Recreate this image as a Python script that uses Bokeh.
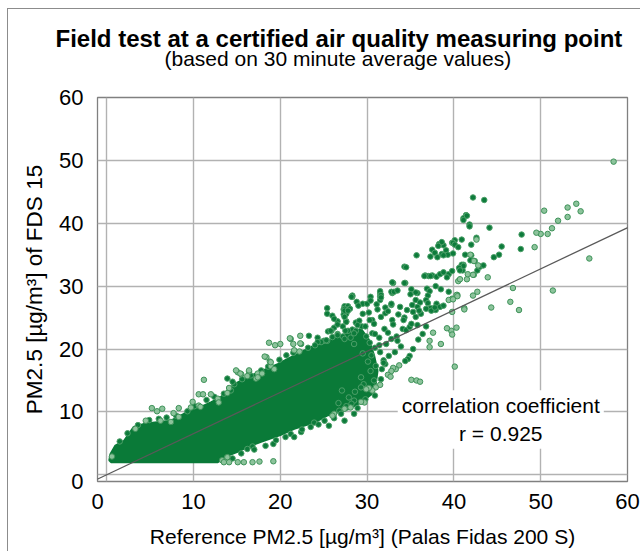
from bokeh.plotting import figure
from bokeh.models import Range1d, FixedTicker, Label, Slope, Title
from bokeh.embed import file_html
from bokeh.resources import INLINE

# ---------------- data ----------------
title_text = "Field test at a certified air quality measuring point"
subtitle_text = "(based on 30 minute average values)"
x_label = "Reference PM2.5 [µg/m³] (Palas Fidas 200 S)"
y_label = "PM2.5 [µg/m³] of FDS 15"

x_ticks = [0, 10, 20, 30, 40, 50, 60]
y_ticks = [0, 10, 20, 30, 40, 50, 60]

# outline of the dense (saturated) part of the point cloud
core_x = [0.5, 12.8, 13.9, 15.0, 16.2, 17.7, 20.0, 21.6, 23.9, 25.4, 27.8, 29.3, 30.5,
          31.0, 31.2, 30.8, 30.2, 29.3, 27.8, 26.2, 24.3, 22.4, 20.8, 19.7, 17.0, 14.7,
          13.1, 12.0, 10.4, 8.9, 7.4, 5.8, 4.3, 3.1, 2.0, 1.0, 0.44, 0.3]
core_y = [2.0, 2.0, 3.0, 3.6, 4.4, 5.2, 6.3, 7.3, 8.3, 9.4, 10.4, 11.5, 12.8,
          14.5, 16.5, 19.0, 21.5, 23.2, 22.6, 21.6, 20.8, 19.5, 18.4, 17.6, 16.0, 14.4,
          12.3, 11.5, 10.5, 9.7, 8.6, 8.35, 8.1, 7.6, 5.4, 4.65, 3.3, 2.3]

dark_pts = [
    (42.2, 44.1), (43.5, 43.7), (41.4, 41.3), (41.1, 40.8), (41.8, 39.8), (44.1, 39.3),
    (42.6, 37.7), (42.0, 36.6), (40.9, 37.4), (40.1, 37.3), (39.8, 36.9), (38.8, 36.5),
    (39.1, 35.7), (38.6, 35.1), (39.3, 35.0), (39.9, 35.2), (35.7, 34.9), (41.3, 35.0),
    (42.0, 34.9), (42.4, 34.0), (41.9, 34.1), (34.3, 33.1), (34.5, 33.0), (41.1, 33.4),
    (41.0, 32.5), (40.8, 33.0), (42.3, 31.8), (42.7, 32.5), (43.0, 33.1), (43.4, 33.3),
    (47.8, 38.2), (47.7, 35.9), (45.5, 36.3), (45.2, 35.0), (44.6, 34.6),
    (36.7, 31.7), (37.1, 31.6), (37.5, 31.7), (38.0, 31.5), (38.4, 31.9), (38.8, 32.2),
    (39.4, 31.9), (39.8, 32.4), (39.2, 31.4),
    (33.0, 30.5), (34.4, 30.5), (35.1, 29.5), (35.0, 28.7), (35.8, 28.9), (32.9, 28.9),
    (31.5, 28.9), (31.5, 28.4), (30.4, 28.3), (28.3, 28.3),
    (41.5, 41.2), (41.1, 40.5), (41.8, 39.5), (38.3, 36.7), (38.6, 37.0), (38.2, 36.4),
    (39.9, 36.9), (40.1, 36.6), (40.5, 36.2), (37.5, 35.8), (37.8, 35.3), (37.3, 34.7),
    (38.1, 34.6), (38.8, 34.9), (40.9, 33.4), (41.1, 33.2), (40.6, 32.9), (40.7, 32.5),
    (36.6, 31.6), (37.3, 31.6), (32.9, 30.6), (34.3, 30.5), (35.6, 29.0), (36.9, 29.6),
    (37.2, 29.2), (37.0, 28.5), (37.9, 30.0), (38.5, 29.5), (39.4, 29.1), (31.5, 29.2),
    (31.6, 28.6), (32.8, 29.1), (33.1, 29.1), (32.1, 26.6), (32.8, 27.0), (31.1, 27.1),
    (31.5, 27.8), (35.2, 27.0), (35.6, 27.8), (36.1, 27.4), (35.8, 26.7), (36.8, 27.8),
    (37.0, 27.3), (37.3, 26.5), (38.0, 27.2), (38.4, 26.7), (38.8, 26.9), (37.9, 26.2),
    (27.4, 26.8), (27.8, 26.8), (29.5, 27.2), (30.0, 27.2), (30.4, 27.7), (27.3, 26.3),
    (27.4, 25.8), (30.6, 24.6), (31.6, 25.1), (32.9, 24.6), (34.3, 25.0), (32.1, 25.7),
    (32.4, 26.0),
    (34.9, 18.9), (34.7, 18.4), (34.4, 18.1), (34.1, 23.2), (34.5, 23.0), (34.9, 23.5),
    (35.1, 24.0), (35.8, 23.8), (35.6, 25.1), (36.2, 25.6), (36.0, 26.1), (36.8, 26.4),
    (37.4, 26.1), (37.8, 26.6), (31.6, 28.2), (32.8, 27.2), (33.5, 29.3), (33.8, 26.7),
    (34.6, 26.2), (30.8, 24.0), (32.0, 23.2), (32.4, 22.6), (30.6, 22.5), (31.4, 21.8),
    (28.8, 27.5), (28.0, 26.4), (29.5, 25.6), (30.3, 24.6), (28.3, 23.1), (27.2, 22.0),
    (29.9, 22.0), (29.5, 19.3), (30.1, 18.0), (30.4, 16.5), (30.8, 15.0), (29.3, 15.5),
    (29.6, 14.4), (27.1, 13.4), (27.9, 12.3), (26.7, 11.4), (28.6, 13.2), (29.3, 13.9),
    (30.3, 21.0), (30.9, 20.2), (31.5, 19.5), (32.2, 20.8), (32.8, 21.6), (33.4, 22.0),
    (31.9, 18.2), (32.5, 18.9), (33.2, 19.5), (33.9, 20.4), (33.5, 21.3), (31.0, 17.3),
    (31.7, 16.8), (32.1, 17.6), (30.5, 19.0), (35.3, 20.0), (35.9, 21.5), (36.4, 22.4),
    (36.8, 23.6), (33.0, 23.9), (34.2, 24.6), (35.3, 25.9), (33.6, 25.5), (31.2, 26.3),
    (30.2, 25.8), (29.0, 26.9), (29.4, 23.6), (28.7, 24.2),
    (13.9, 15.3), (14.7, 14.4), (14.3, 13.4), (25.4, 26.5), (28.3, 28.5), (27.4, 26.4),
    (28.0, 26.4), (27.6, 25.6), (27.3, 25.5), (26.0, 25.3), (26.6, 24.4), (27.6, 24.4),
    (26.2, 23.4), (25.5, 22.8), (25.9, 22.9), (24.3, 21.8), (25.0, 21.3), (25.4, 21.3),
    (24.7, 21.1), (28.7, 22.9),
    (19.2, 4.9), (16.8, 4.5), (16.2, 4.1), (21.2, 6.5), (21.6, 6.0), (22.4, 6.8),
    (23.5, 7.6), (25.1, 8.6), (25.6, 7.8), (23.9, 8.3), (27.4, 8.6), (28.5, 9.7),
    (26.8, 10.2), (27.6, 10.9), (28.5, 11.8), (28.2, 11.3),
    (21.2, 21.6), (22.4, 20.8), (23.3, 22.1), (24.3, 21.1), (25.4, 25.6), (26.2, 24.8),
    (27.4, 26.1), (27.8, 26.1), (27.4, 25.1), (27.6, 24.3), (28.2, 28.3), (25.8, 22.9),
    (26.6, 23.9), (27.2, 23.6), (27.8, 22.9), (28.5, 22.5), (29.1, 24.5), (26.0, 21.9),
    (26.6, 22.4), (27.4, 21.6), (28.1, 21.8), (28.5, 20.8),
    # points poking out of the dense band (upper edge)
    (1.5, 5.3), (2.4, 6.6), (3.6, 7.9), (4.9, 8.7), (6.0, 8.9), (6.9, 9.1), (8.0, 9.4),
    (9.3, 10.1), (10.1, 10.9), (11.5, 11.9), (12.4, 12.4), (13.5, 12.9), (14.5, 14.8),
    (15.6, 15.2), (16.6, 15.8), (17.8, 16.6), (18.6, 17.2), (19.9, 18.3), (20.7, 19.0),
    (21.5, 19.4), (23.2, 20.2), (24.0, 20.6), (25.3, 21.4), (26.6, 22.2), (27.5, 22.9),
    (28.9, 23.8), (29.8, 23.6),
    # points poking out of the dense band (lower edge / right end)
    (14.5, 2.6), (15.5, 3.4), (17.0, 4.0), (18.3, 4.6), (19.5, 5.5), (20.6, 6.0),
    (22.5, 7.2), (24.4, 8.0), (26.2, 9.0), (27.0, 9.7), (28.9, 10.6), (29.8, 12.0),
    (30.9, 12.6), (31.6, 15.2), (31.9, 17.8), (31.4, 20.6), (30.9, 22.4),
]

light_pts = [
    (58.4, 49.8), (50.4, 42.0), (53.1, 42.5), (54.1, 43.1), (54.6, 41.9), (53.1, 41.0),
    (52.0, 40.4), (51.3, 39.2), (50.8, 38.3), (50.0, 38.3), (49.5, 38.5), (49.3, 36.2),
    (55.6, 34.4), (46.8, 29.7), (51.4, 29.3), (40.5, 30.8), (41.5, 31.1), (43.9, 31.4),
    (40.4, 28.6), (42.7, 29.1), (42.2, 28.5), (42.6, 37.4), (41.9, 35.0), (42.3, 34.0),
    (42.8, 33.3), (41.6, 31.9), (42.2, 31.8), (40.7, 31.1), (40.3, 28.6), (39.8, 28.0),
    (39.4, 27.8), (41.2, 26.5), (39.8, 25.9),
    (46.5, 27.5), (47.5, 26.2), (44.3, 26.6), (41.2, 26.3), (40.4, 28.4), (39.9, 27.9),
    (40.3, 23.4), (39.7, 22.9), (39.2, 23.3), (39.8, 22.3), (38.5, 20.8), (37.2, 21.3),
    (37.2, 20.3), (37.6, 22.6), (40.1, 17.2), (35.1, 15.1), (35.7, 15.0), (36.1, 14.8),
    (33.7, 17.4), (33.3, 16.8), (33.0, 17.0), (32.8, 16.5), (32.4, 15.9), (32.7, 15.6),
    (31.5, 14.3), (31.0, 13.9), (30.6, 13.4), (30.2, 13.8), (29.9, 13.6), (29.7, 11.5),
    (29.3, 11.6), (28.1, 10.7), (27.4, 10.5), (26.2, 9.7), (26.0, 9.4),
    (11.2, 15.1), (10.6, 12.8), (11.1, 12.8), (12.0, 12.8), (5.2, 10.6), (5.8, 10.1),
    (6.4, 10.5), (7.7, 9.8), (8.3, 10.6), (8.3, 9.2), (9.7, 10.7), (9.9, 11.6),
    (10.6, 11.0), (10.8, 10.8), (13.9, 13.0), (14.1, 13.8), (12.8, 12.1), (12.9, 11.5),
    (4.5, 8.6), (3.3, 7.3), (6.2, 8.6), (7.4, 8.4), (0.6, 2.9), (13.3, 2.3),
    (13.9, 2.8), (14.1, 2.0),
    (18.7, 21.0), (19.4, 20.6), (21.1, 21.7), (21.5, 20.8), (22.3, 20.9), (22.2, 19.6),
    (22.3, 22.1), (21.6, 19.8), (18.4, 18.7), (18.8, 18.0), (18.9, 17.3), (19.3, 16.8),
    (15.1, 16.3), (15.5, 16.0), (16.4, 16.4), (16.2, 15.7), (17.4, 16.1), (17.9, 16.1),
    (17.2, 15.3),
    (13.5, 2.0), (15.1, 2.0), (16.8, 2.0), (19.2, 2.15), (13.9, 2.8), (15.8, 2.0),
    (17.6, 2.1),
    (14.9, 16.6), (16.4, 16.6), (15.4, 16.1), (17.4, 15.5), (18.2, 18.8), (18.9, 17.9),
    (20.0, 20.8),
]

fit_slope = 0.655
fit_intercept = 0.0
r_value = 0.925

dark_x = [q[0] for q in dark_pts]
dark_y = [q[1] for q in dark_pts]
light_x = [q[0] for q in light_pts]
light_y = [q[1] for q in light_pts]

# ---------------- styling / layout ----------------
FONT = "Liberation Sans"
X_MIN, X_MAX = -1.06, 60
Y_MIN, Y_MAX = -1.07, 60
CORE = "#0a7a38"
DARK_FILL, DARK_EDGE = "#0d7b3b", "#4c9f68"
LIGHT_FILL, LIGHT_EDGE = "#8cc39b", "#3f935a"
GRID = "#b2b2b2"

W, H = 633, 543
p = figure(width=W, height=H, x_range=Range1d(X_MIN, X_MAX), y_range=Range1d(Y_MIN, Y_MAX),
           output_backend="svg", toolbar_location=None,
           min_border_left=89, min_border_top=88, min_border_right=14, min_border_bottom=71)
p.styles = {"margin-left": "7px", "margin-top": "8px",
            "border-left": "1px solid #8c8c8c", "border-top": "1px solid #8c8c8c"}
p.background_fill_color = "white"
p.border_fill_color = "white"
p.outline_line_color = "#808080"
p.outline_line_width = 1.3

p.xgrid.ticker = FixedTicker(ticks=x_ticks)
p.ygrid.ticker = FixedTicker(ticks=y_ticks)
for g in (p.xgrid, p.ygrid):
    g.grid_line_color = GRID
    g.grid_line_width = 1.4

p.xaxis.ticker = FixedTicker(ticks=[X_MIN] + x_ticks[1:])
p.yaxis.ticker = FixedTicker(ticks=[Y_MIN] + y_ticks[1:])
p.xaxis.major_label_overrides = {X_MIN: str(x_ticks[0])}
p.yaxis.major_label_overrides = {Y_MIN: str(y_ticks[0])}

for ax in (p.xaxis, p.yaxis):
    ax.axis_line_color = None
    ax.major_tick_line_color = None
    ax.minor_tick_line_color = None
    ax.major_tick_out = 0
    ax.major_tick_in = 0
    ax.major_label_text_font = FONT
    ax.major_label_text_font_size = "22px"
    ax.major_label_text_color = "black"
    ax.axis_label_text_font = FONT
    ax.axis_label_text_font_size = "21px"
    ax.axis_label_text_font_style = "normal"
    ax.axis_label_text_color = "black"
p.yaxis.axis_label_text_font_size = "22.5px"
p.xaxis.axis_label = x_label
p.yaxis.axis_label = y_label
p.xaxis.major_label_standoff = 12
p.yaxis.major_label_standoff = 14
p.xaxis.axis_label_standoff = 13
p.yaxis.axis_label_standoff = 9

p.patch(core_x, core_y, fill_color=CORE, line_color=CORE, line_width=2)
p.scatter(dark_x, dark_y, marker="circle", size=5.5, fill_color=DARK_FILL,
          line_color=DARK_EDGE, line_width=1)
p.scatter(light_x, light_y, marker="circle", size=5.5, fill_color=LIGHT_FILL,
          line_color=LIGHT_EDGE, line_width=1)

p.add_layout(Slope(gradient=fit_slope, y_intercept=fit_intercept,
                   line_color="#595959", line_width=1.3))

p.add_layout(Label(x=45.4, y=8.78, text=f"correlation coefficient\nr = {r_value:.3f}",
                   text_align="center", text_baseline="middle", text_font=FONT,
                   text_font_size="21px", text_color="black",
                   background_fill_color="white", padding=4))

# titles above the frame: spacer, subtitle, main title (first added is nearest the frame)
p.add_layout(Title(text=" ", text_font_size="2px", standoff=22), "above")
p.add_layout(Title(text=subtitle_text, align="left", offset=67, text_font=FONT,
                   text_font_size="21px", text_font_style="normal", text_color="black",
                   standoff=4), "above")
p.add_layout(Title(text=title_text, align="left", offset=-42, text_font=FONT,
                   text_font_size="24px", text_font_style="bold", text_color="black",
                   standoff=-18), "above")

open("out.html", "w").write(file_html(p, INLINE))
